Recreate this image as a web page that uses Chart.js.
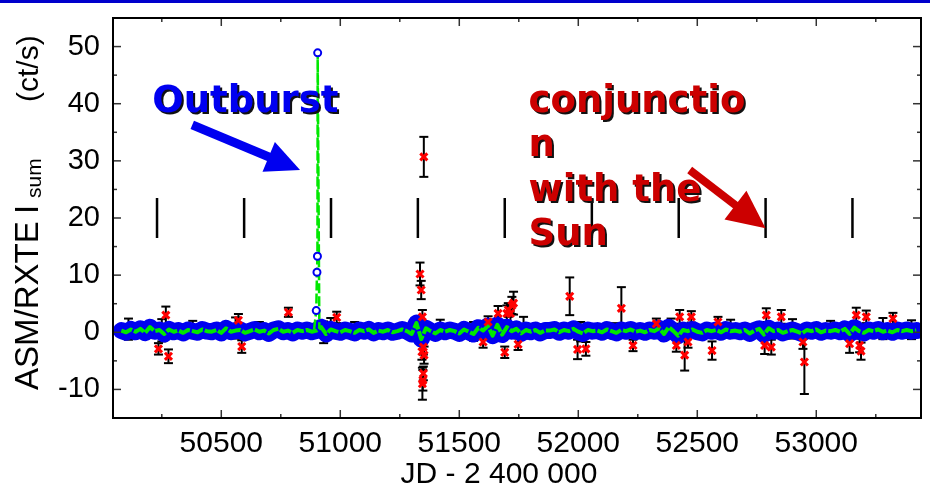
<!DOCTYPE html>
<html>
<head>
<meta charset="utf-8">
<script src="https://cdn.jsdelivr.net/npm/chart.js@4.4.1/dist/chart.umd.min.js"></script>
<style>
html, body { margin: 0; padding: 0; background: #fff; }
canvas { display: block; }
</style>
</head>
<body>
<canvas id="lightCurve" width="930" height="491"></canvas>
<script>
// ASM/RXTE light curve, JD - 2400000 vs count rate
var bandDates = [
    50080,50100,50120,50140,50160,50180,50200,50220,50240,50260,
    50280,50300,50320,50340,50360,50380,50400,50420,50440,50460,
    50480,50500,50520,50540,50560,50580,50600,50620,50640,50660,
    50680,50700,50720,50740,50760,50780,50800,50820,50840,50860,
    50880,50900,50920,50940,50960,50980,51000,51020,51040,51060,
    51080,51100,51120,51140,51160,51180,51200,51220,51240,51260,
    51280,51300,51320,51340,51360,51380,51400,51420,51440,51460,
    51480,51500,51520,51540,51560,51580,51600,51620,51640,51660,
    51680,51700,51720,51740,51760,51780,51800,51820,51840,51860,
    51880,51900,51920,51940,51960,51980,52000,52020,52040,52060,
    52080,52100,52120,52140,52160,52180,52200,52220,52240,52260,
    52280,52300,52320,52340,52360,52380,52400,52420,52440,52460,
    52480,52500,52520,52540,52560,52580,52600,52620,52640,52660,
    52680,52700,52720,52740,52760,52780,52800,52820,52840,52860,
    52880,52900,52920,52940,52960,52980,53000,53020,53040,53060,
    53080,53100,53120,53140,53160,53180,53200,53220,53240,53260,
    53280,53300,53320,53340,53360,53380,53400,53420
];
var bandCounts = [
    0.3,0.0,0.5,0.1,0.6,-0.1,0.9,0.2,0.4,-0.3,
    0.5,0.1,0.3,-0.1,0.4,0.2,0.0,0.5,0.2,0.1,
    0.4,-0.1,0.7,0.1,0.3,0.4,-0.1,0.2,0.5,0.1,
    0.3,-0.2,0.4,0.6,0.1,0.3,-0.1,0.4,0.2,0.4,
    0.1,0.3,0.9,-0.3,0.5,0.2,0.0,0.4,0.2,-0.1,
    0.4,0.2,0.5,-0.1,0.3,0.1,0.4,0.0,0.2,0.5,
    0.2,-0.3,1.6,-1.2,0.7,0.2,-0.2,0.4,0.1,0.4,
    0.2,-0.2,0.5,0.1,-0.3,0.8,0.3,1.1,-0.6,1.3,
    -0.4,0.9,0.2,0.6,-0.2,0.4,0.1,0.4,-0.1,0.3,
    0.3,0.5,0.0,0.4,0.2,0.6,0.1,-0.2,0.4,0.2,
    0.3,0.0,0.5,0.2,-0.1,0.4,0.2,0.5,0.1,0.3,
    0.0,0.4,0.2,0.7,-0.3,0.9,0.2,-0.6,0.4,0.2,
    0.5,0.1,-0.1,0.4,0.2,0.4,0.0,0.5,0.2,0.3,
    0.1,0.4,-0.2,0.3,0.6,-0.4,0.7,0.2,0.4,-0.1,
    0.2,0.4,0.1,-0.2,0.4,0.2,0.5,0.0,0.3,0.2,
    0.4,0.1,0.6,-0.3,0.8,0.2,-0.1,0.4,0.2,0.5,
    0.1,0.3,0.0,0.4,0.2,0.4,0.2,0.3
];

// error bars on ordinary points
var bandErrDates = [50110,50250,50380,50560,50660,50930,50960,51060,51420,51560,51770,52010,52150,52390,52640,52900,53060,53280,53400];
var bandErrLow   = [-1.8,-1.3,-1.2,-1.4,-1.0,-1.6,-1.2,-1.1,-1.3,-1.2,-1.5,-1.4,-1.0,-1.3,-1.2,-1.5,-1.1,-1.3,-1.4];
var bandErrHigh  = [ 1.9, 2.6, 1.8, 2.3, 1.7, 2.2, 2.0, 1.9, 1.8, 2.1, 2.3, 2.0, 1.7, 2.2, 2.0, 1.9, 1.8, 2.4, 1.9];

// the 1998 outburst
var outburstDates  = [50890, 50899, 50902, 50904, 50905, 50912];
var outburstCounts = [0.5, 3.8, 10.5, 13.3, 48.9, 0.6];

// outlying points (red crosses) with their errors
var outlierDates = [
    50236,50267,50278,50572,50586,50782,50985,
    51335,51340,51345,51349,51352,51349,51347,51345,51351,51343,
    51600,51621,51663,51691,51700,51706,51715,51721,51728,51747,
    51964,51997,52032,52181,52230,52328,52412,52426,52447,52461,52475,52562,52587,
    52783,52790,52811,52853,52944,52950,53140,53168,53182,53188,53210,53322
];
var outlierCounts = [
    -2.9,3.0,-4.2,2.1,-2.5,3.5,2.6,
    10.2,7.4,2.7,-2.6,-4.0,-7.2,-8.4,-9.0,30.7,-3.4,
    -1.7,1.8,3.3,-3.5,3.3,3.9,3.3,4.7,5.1,-2.1,
    6.3,-3.0,-2.9,4.2,-2.3,1.5,-2.3,2.7,-4.0,-1.7,2.7,-3.2,1.8,
    -2.3,3.0,-2.6,2.7,-1.7,-5.2,-2.0,3.0,-2.3,-3.3,2.7,2.4
];
var outlierErrors = [
    1.0,1.5,1.2,1.1,1.1,0.8,1.0,
    2.0,1.6,1.2,1.3,1.5,1.2,1.8,2.8,3.5,1.4,
    1.0,1.0,1.3,1.0,1.4,1.2,1.6,1.5,2.0,1.0,
    3.3,1.7,1.2,3.7,1.0,0.9,1.1,1.2,2.7,1.0,1.0,1.6,0.9,
    1.5,1.2,1.3,1.2,1.2,5.6,1.6,1.3,1.2,1.5,1.1,1.0
];

// yearly conjunction markers
var conjunctionDates = [50230, 50596, 50961, 51326, 51691, 52057, 52422, 52787, 53152];
var conjunctionRange = [16.5, 23.5];

// axes
var xTickValues = [50500, 51000, 51500, 52000, 52500, 53000];
var xTickLabels = ["50500", "51000", "51500", "52000", "52500", "53000"];
var xMinorTicks = [50250, 50750, 51250, 51750, 52250, 52750, 53250];
var yTickValues = [-10, 0, 10, 20, 30, 40, 50];
var yTickLabels = ["-10", "0", "10", "20", "30", "40", "50"];
var yMinorTicks = [-5, 5, 15, 25, 35, 45];

var BLUE = "#0000f0", GREEN = "#00e800", RED = "#ff0000";

function pairs(xs, ys){
    return xs.map(function(x, i){ return {x: x, y: ys[i]}; });
}

function bars(xs, lows, highs){
    var out = [];
    xs.forEach(function(x, i){
        out.push({x: x, y: lows[i]}, {x: x, y: highs[i]}, {x: x, y: null});
    });
    return out;
}

function bandAt(d){
    return bandCounts[bandDates.indexOf(Math.round(d / 20) * 20)];
}

var bandPoints = pairs(bandDates, bandCounts);
var errorBars = bars(bandErrDates,
        bandErrDates.map(function(d, i){ return bandAt(d) + bandErrLow[i]; }),
        bandErrDates.map(function(d, i){ return bandAt(d) + bandErrHigh[i]; }))
    .concat(bars(outlierDates,
        outlierCounts.map(function(c, i){ return c - outlierErrors[i]; }),
        outlierCounts.map(function(c, i){ return c + outlierErrors[i]; })));
var conjMarks = bars(conjunctionDates,
    conjunctionDates.map(function(){ return conjunctionRange[0]; }),
    conjunctionDates.map(function(){ return conjunctionRange[1]; }));

function arrow(ctx, x0, y0, x1, y1, shaft, headLen, headHalf, color){
    var dx = x1 - x0, dy = y1 - y0, len = Math.sqrt(dx * dx + dy * dy);
    var ux = dx / len, uy = dy / len, px = -uy, py = ux;
    var bx = x1 - ux * headLen, by = y1 - uy * headLen;
    ctx.save();
    ctx.strokeStyle = color;
    ctx.fillStyle = color;
    ctx.lineWidth = shaft;
    ctx.beginPath();
    ctx.moveTo(x0, y0);
    ctx.lineTo(bx + ux * 2, by + uy * 2);
    ctx.stroke();
    ctx.beginPath();
    ctx.moveTo(x1, y1);
    ctx.lineTo(bx + px * headHalf, by + py * headHalf);
    ctx.lineTo(bx - px * headHalf, by - py * headHalf);
    ctx.closePath();
    ctx.fill();
    ctx.restore();
}

function shadowText(ctx, txt, x, y, color){
    ctx.fillStyle = "#111";
    ctx.fillText(txt, x + 2, y + 2);
    ctx.fillStyle = color;
    ctx.fillText(txt, x, y);
}

function vText(ctx, txt, xBase, yStart, size){
    ctx.save();
    ctx.translate(xBase, yStart);
    ctx.rotate(-Math.PI / 2);
    ctx.font = size + 'px "Liberation Sans", Arial, sans-serif';
    ctx.textAlign = "left";
    ctx.textBaseline = "alphabetic";
    ctx.fillStyle = "#000";
    ctx.fillText(txt, 0, 0);
    ctx.restore();
}

var decor = {
    id: "decor",
    beforeDraw: function(chart){
        var ctx = chart.ctx;
        ctx.save();
        ctx.fillStyle = "#fff";
        ctx.fillRect(0, 0, chart.width, chart.height);
        ctx.fillStyle = "#0000cc";
        ctx.fillRect(0, 0, chart.width, 3);
        ctx.restore();
    },
    afterDatasetsDraw: function(chart){
        var ctx = chart.ctx, a = chart.chartArea;
        var xs = chart.scales.x, ys = chart.scales.y;
        function X(v){ return xs.getPixelForValue(v); }
        function Y(v){ return ys.getPixelForValue(v); }

        ctx.save();
        // inward tick marks on all four sides
        ctx.strokeStyle = "#333";
        ctx.lineWidth = 1.5;
        function seg(x0, y0, x1, y1){ ctx.beginPath(); ctx.moveTo(x0, y0); ctx.lineTo(x1, y1); ctx.stroke(); }
        xTickValues.forEach(function(v){ var p = X(v); seg(p, a.bottom, p, a.bottom - 8); seg(p, a.top, p, a.top + 8); });
        xMinorTicks.forEach(function(v){ var p = X(v); seg(p, a.bottom, p, a.bottom - 4); seg(p, a.top, p, a.top + 4); });
        yTickValues.forEach(function(v){ var p = Y(v); seg(a.left, p, a.left + 8, p); seg(a.right, p, a.right - 8, p); });
        yMinorTicks.forEach(function(v){ var p = Y(v); seg(a.left, p, a.left + 4, p); seg(a.right, p, a.right - 4, p); });

        // frame
        ctx.strokeStyle = "#000";
        ctx.lineWidth = 2;
        ctx.strokeRect(a.left, a.top, a.right - a.left, a.bottom - a.top);

        // annotations
        ctx.font = 'bold 37px "DejaVu Sans", sans-serif';
        ctx.textAlign = "left";
        ctx.textBaseline = "alphabetic";
        shadowText(ctx, "Outburst", X(50210), Y(38.6), BLUE);
        var cx = X(51791), cy = Y(38.6);
        ["conjunctio", "n", "with the", "Sun"].forEach(function(line, i){
            shadowText(ctx, line, cx, cy + i * 44.5, "#cc0000");
        });
        arrow(ctx, X(50378), Y(36.3), X(50831), Y(28.4), 9, 34, 16, BLUE);
        arrow(ctx, X(52468), Y(28.4), X(52787), Y(18.2), 8, 38, 18, "#cc0000");

        // axis titles
        vText(ctx, "ASM/RXTE", 38, 390, 33);
        vText(ctx, "I", 38, 214, 33);
        vText(ctx, "sum", 41, 198, 21);
        vText(ctx, "(ct/s)", 38, 102, 30);
        ctx.font = '30px "Liberation Sans", Arial, sans-serif';
        ctx.textAlign = "center";
        ctx.fillStyle = "#000";
        ctx.fillText("JD - 2 400 000", 499, 483);
        ctx.restore();
    }
};

var tickFont = {family: '"Liberation Sans", Arial, sans-serif', size: 30};

new Chart(document.getElementById("lightCurve"), {
    type: "scatter",
    data: {
        datasets: [{
            // red crosses
            data: pairs(outlierDates, outlierCounts),
            order: 0,
            showLine: false,
            pointStyle: "crossRot",
            pointRadius: 5,
            pointBorderWidth: 3,
            pointBorderColor: RED,
            pointBackgroundColor: RED
        }, {
            data: pairs(outburstDates, outburstCounts),
            order: 1,
            showLine: true,
            borderColor: GREEN,
            borderWidth: 2.5,
            borderDash: [10, 3],
            pointRadius: [0, 3.5, 3.5, 3.5, 3.5, 0],
            pointBorderWidth: 2,
            pointBorderColor: BLUE,
            pointBackgroundColor: "#fff"
        }, {
            data: bandPoints,
            order: 2,
            showLine: true,
            borderColor: GREEN,
            borderWidth: 4,
            borderDash: [12, 2],
            borderJoinStyle: "round",
            pointRadius: 0
        }, {
            data: bandPoints,
            order: 3,
            showLine: true,
            borderColor: BLUE,
            borderWidth: 17,
            borderJoinStyle: "round",
            borderCapStyle: "round",
            pointRadius: 0
        }, {
            data: errorBars,
            order: 4,
            showLine: true,
            spanGaps: false,
            borderColor: "#000",
            borderWidth: 2,
            pointStyle: "line",
            pointRadius: 4.5,
            pointBorderWidth: 2,
            pointBorderColor: "#000"
        }, {
            data: conjMarks,
            order: 5,
            showLine: true,
            spanGaps: false,
            borderColor: "#000",
            borderWidth: 2.5,
            pointRadius: 0
        }]
    },
    options: {
        responsive: false,
        animation: false,
        devicePixelRatio: 1,
        layout: {padding: {left: 0, right: 9, top: 18, bottom: 0}},
        plugins: {legend: {display: false}, tooltip: {enabled: false}},
        scales: {
            x: {
                type: "linear",
                min: 50045,
                max: 53440,
                afterBuildTicks: function(s){ s.ticks = xTickValues.map(function(v){ return {value: v}; }); },
                afterFit: function(s){ s.height = 73; s.paddingLeft = 0; s.paddingRight = 0; },
                grid: {display: false, drawTicks: false},
                border: {display: false},
                ticks: {
                    padding: 8,
                    color: "#000",
                    font: tickFont,
                    maxRotation: 0,
                    autoSkip: false,
                    callback: function(v){ return xTickLabels[xTickValues.indexOf(v)]; }
                }
            },
            y: {
                type: "linear",
                min: -15,
                max: 55,
                afterBuildTicks: function(s){ s.ticks = yTickValues.map(function(v){ return {value: v}; }); },
                afterFit: function(s){ s.width = 113; s.paddingTop = 0; s.paddingBottom = 0; },
                grid: {display: false, drawTicks: false},
                border: {display: false},
                ticks: {
                    padding: 13,
                    color: "#000",
                    font: {family: '"Liberation Sans", Arial, sans-serif', size: 29},
                    autoSkip: false,
                    callback: function(v){ return yTickLabels[yTickValues.indexOf(v)]; }
                }
            }
        }
    },
    plugins: [decor]
});
</script>
</body>
</html>
